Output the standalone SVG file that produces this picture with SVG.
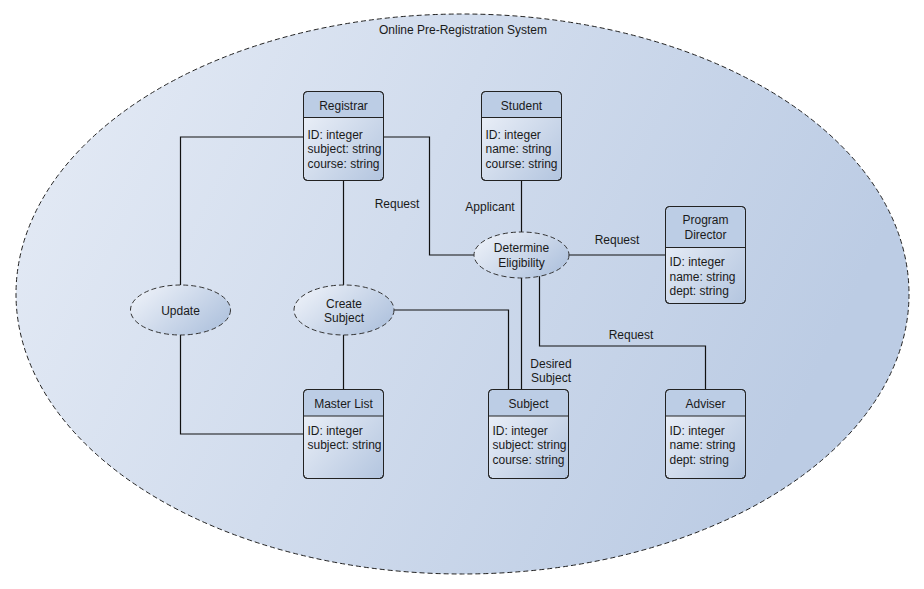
<svg xmlns="http://www.w3.org/2000/svg" width="924" height="589" viewBox="0 0 924 589">
<defs>
<linearGradient id="gOuter" x1="0" y1="0" x2="1" y2="0.3">
<stop offset="0" stop-color="#e6ecf6"/>
<stop offset="1" stop-color="#bccce4"/>
</linearGradient>
<linearGradient id="gBox" x1="0" y1="0" x2="1" y2="1">
<stop offset="0" stop-color="#f2f5fb"/>
<stop offset="1" stop-color="#b3c5df"/>
</linearGradient>
<linearGradient id="gEll" x1="0" y1="0" x2="1" y2="0.6">
<stop offset="0" stop-color="#f2f5fb"/>
<stop offset="1" stop-color="#b3c5df"/>
</linearGradient>
<clipPath id="c"><rect x="0" y="0" width="80" height="89" rx="4"/></clipPath>
</defs>
<style>
text{font-family:"Liberation Sans",Arial,sans-serif;font-size:12px;fill:#1a1a1a}
.c{text-anchor:middle}
.box{fill:url(#gBox);stroke:#222;stroke-width:1}
.hdr{fill:#bccde5}
.div{stroke:#222;stroke-width:1}
.uc{fill:url(#gEll);stroke:#333;stroke-width:1;stroke-dasharray:5 3}
.ln{fill:none;stroke:#111;stroke-width:1.2}
</style>
<g id="system">
<ellipse cx="462.5" cy="294" rx="446.5" ry="280" fill="url(#gOuter)" stroke="#222" stroke-width="1" stroke-dasharray="5 3"/>
<text class="c" x="463" y="34">Online Pre-Registration System</text>
</g>
<g id="connectors">
<polyline class="ln" points="303,137 180.5,137 180.5,285"/>
<polyline class="ln" points="180.5,335 180.5,434 303.5,434"/>
<polyline class="ln" points="383.5,137 429.5,137 429.5,255 474,255"/>
<line class="ln" x1="343.5" y1="181" x2="343.5" y2="285"/>
<line class="ln" x1="343.5" y1="335" x2="343.5" y2="389"/>
<polyline class="ln" points="394,310 508.5,310 508.5,389"/>
<line class="ln" x1="521.5" y1="181" x2="521.5" y2="232"/>
<line class="ln" x1="569" y1="255" x2="665" y2="255"/>
<line class="ln" x1="521.5" y1="278" x2="521.5" y2="389"/>
<polyline class="ln" points="539.5,276 539.5,346 705.5,346 705.5,389"/>
<text class="c" x="397" y="208">Request</text>
<text class="c" x="490" y="211">Applicant</text>
<text class="c" x="617" y="244">Request</text>
<text class="c" x="631" y="339">Request</text>
<text class="c" x="551" y="368">Desired</text>
<text class="c" x="551" y="382">Subject</text>
</g>
<g id="registrar" transform="translate(303.5,91.5)">
<rect class="box" width="80" height="89" rx="4"/>
<path class="hdr" d="M4,0.5 H76 A3.5,3.5 0 0 1 79.5,4 V26 H0.5 V4 A3.5,3.5 0 0 1 4,0.5 Z"/>
<rect width="80" height="89" rx="4" fill="none" stroke="#222"/>
<line class="div" x1="0" y1="26" x2="80" y2="26"/>
<text class="c" x="40" y="18">Registrar</text>
<text x="4" y="47">ID: integer</text>
<text x="4" y="61.5">subject: string</text>
<text x="4" y="76">course: string</text>
</g>
<g id="student" transform="translate(481.5,91.5)">
<rect class="box" width="80" height="89" rx="4"/>
<path class="hdr" d="M4,0.5 H76 A3.5,3.5 0 0 1 79.5,4 V26 H0.5 V4 A3.5,3.5 0 0 1 4,0.5 Z"/>
<rect width="80" height="89" rx="4" fill="none" stroke="#222"/>
<line class="div" x1="0" y1="26" x2="80" y2="26"/>
<text class="c" x="40" y="18">Student</text>
<text x="4" y="47">ID: integer</text>
<text x="4" y="61.5">name: string</text>
<text x="4" y="76">course: string</text>
</g>
<g id="program-director" transform="translate(665.5,206.5)">
<rect class="box" width="80" height="97" rx="4"/>
<path class="hdr" d="M4,0.5 H76 A3.5,3.5 0 0 1 79.5,4 V41 H0.5 V4 A3.5,3.5 0 0 1 4,0.5 Z"/>
<rect width="80" height="97" rx="4" fill="none" stroke="#222"/>
<line class="div" x1="0" y1="41" x2="80" y2="41"/>
<text class="c" x="40" y="17.5">Program</text>
<text class="c" x="40" y="32.5">Director</text>
<text x="4" y="59.5">ID: integer</text>
<text x="4" y="74">name: string</text>
<text x="4" y="88.5">dept: string</text>
</g>
<g id="master-list" transform="translate(303.5,389.5)">
<rect class="box" width="80" height="89" rx="4"/>
<path class="hdr" d="M4,0.5 H76 A3.5,3.5 0 0 1 79.5,4 V26.5 H0.5 V4 A3.5,3.5 0 0 1 4,0.5 Z"/>
<rect width="80" height="89" rx="4" fill="none" stroke="#222"/>
<line class="div" x1="0" y1="26.5" x2="80" y2="26.5"/>
<text class="c" x="40" y="18">Master List</text>
<text x="4" y="45">ID: integer</text>
<text x="4" y="59.5">subject: string</text>
</g>
<g id="subject" transform="translate(488.5,389.5)">
<rect class="box" width="80" height="89" rx="4"/>
<path class="hdr" d="M4,0.5 H76 A3.5,3.5 0 0 1 79.5,4 V26.5 H0.5 V4 A3.5,3.5 0 0 1 4,0.5 Z"/>
<rect width="80" height="89" rx="4" fill="none" stroke="#222"/>
<line class="div" x1="0" y1="26.5" x2="80" y2="26.5"/>
<text class="c" x="40" y="18">Subject</text>
<text x="4" y="45">ID: integer</text>
<text x="4" y="59.5">subject: string</text>
<text x="4" y="74">course: string</text>
</g>
<g id="adviser" transform="translate(665.5,389.5)">
<rect class="box" width="80" height="89" rx="4"/>
<path class="hdr" d="M4,0.5 H76 A3.5,3.5 0 0 1 79.5,4 V26.5 H0.5 V4 A3.5,3.5 0 0 1 4,0.5 Z"/>
<rect width="80" height="89" rx="4" fill="none" stroke="#222"/>
<line class="div" x1="0" y1="26.5" x2="80" y2="26.5"/>
<text class="c" x="40" y="18">Adviser</text>
<text x="4" y="45">ID: integer</text>
<text x="4" y="59.5">name: string</text>
<text x="4" y="74">dept: string</text>
</g>
<g id="determine-eligibility">
<ellipse class="uc" cx="521.5" cy="255" rx="47.5" ry="23"/>
<text class="c" x="521.5" y="252">Determine</text>
<text class="c" x="521.5" y="267">Eligibility</text>
</g>
<g id="update">
<ellipse class="uc" cx="180.5" cy="310" rx="50" ry="25"/>
<text class="c" x="180.5" y="315">Update</text>
</g>
<g id="create-subject">
<ellipse class="uc" cx="344" cy="310" rx="50" ry="25"/>
<text class="c" x="344" y="308">Create</text>
<text class="c" x="344" y="322">Subject</text>
</g>
</svg>
